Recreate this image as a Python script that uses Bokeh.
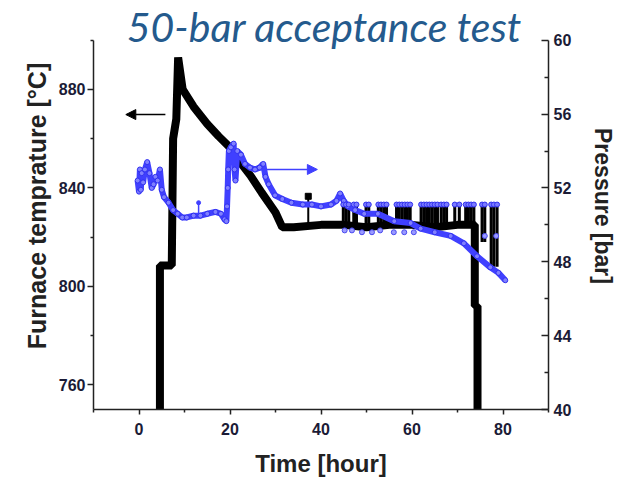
from bokeh.plotting import figure
from bokeh.models import Range1d, LinearAxis, FixedTicker, Arrow, NormalHead, Label
from bokeh.embed import file_html
from bokeh.resources import INLINE

# ---- data ----
time_temp = [4.6, 4.6, 7.2, 7.5, 8.2, 8.6, 9.6, 12.0, 15.0, 17.5, 19.7, 22.0, 24.5, 27.0,
             30.0, 31.5, 34.0, 40.0, 45.0, 50.0, 55.0, 60.0, 65.0, 70.0, 73.8, 73.8, 74.4, 74.4]
temp_c = [745, 808.5, 808.5, 860, 868, 893, 880, 873, 866, 861, 857, 851, 845, 838,
          830, 824, 824, 825, 825, 824, 825, 825, 824, 825, 825, 792, 792, 745]

time_pres = [-0.3, 0.0, 0.2, 0.4, 0.6, 0.9, 1.3, 1.8, 2.3, 2.8, 3.2, 3.6, 4.1, 4.6, 5.0, 5.5,
             6.5, 7.5, 8.5, 9.5, 10.5, 12.0, 13.5, 15.0, 16.8, 18.0, 18.8, 19.2, 19.35, 19.5,
             19.6, 19.75, 20.2, 20.8, 21.0, 21.2, 21.6, 22.4, 23.3, 24.4, 25.5, 26.5, 27.3,
             27.8, 28.5, 29.9, 31.5, 33.5, 36.0, 38.0, 40.0, 42.2, 43.4, 44.2, 45.0, 45.9,
             47.5, 49.5, 52.5, 56.1, 59.7, 61.9, 65.0, 68.5, 71.4, 74.3, 77.2, 79.0, 80.5]
pres_bar = [52.4, 51.8, 53.0, 51.9, 52.8, 52.3, 53.0, 53.4, 52.8, 52.0, 52.2, 52.6, 52.4, 53.0,
            51.9, 51.5, 51.2, 50.8, 50.6, 50.4, 50.4, 50.5, 50.5, 50.6, 50.7, 50.6, 50.3, 50.2,
            51.0, 52.0, 53.0, 54.0, 54.2, 54.4, 53.0, 52.4, 54.0, 53.8, 53.3, 53.1, 53.0, 53.1,
            53.3, 52.6, 52.2, 51.6, 51.4, 51.2, 51.1, 51.1, 51.0, 51.1, 51.3, 51.7, 51.3, 51.0,
            50.8, 50.6, 50.6, 50.2, 50.1, 49.8, 49.6, 49.4, 49.0, 48.3, 47.7, 47.4, 47.0]

# noisy readings in the later part of the run
spike_hr = [44.9, 45.5, 46.1, 47.2, 47.8, 49.9, 50.5, 52.6, 53.2, 53.8, 54.4, 56.6, 57.2,
            57.8, 58.4, 59.0, 59.6, 62.0, 62.6, 63.2, 63.8, 64.4, 65.0, 65.6, 66.4, 67.0,
            67.6, 69.4, 70.4, 71.8, 72.4, 73.0, 73.6, 75.4, 76.0, 77.4, 78.0, 78.7]
spike_lo = [824, 824, 824, 824, 824, 824, 824, 824, 824, 824, 824, 824, 824,
            824, 824, 824, 824, 824, 824, 824, 824, 824, 824, 824, 824, 824,
            824, 824, 824, 824, 824, 824, 824, 818, 818, 808, 808, 808]
spike_hi = [834, 834, 834, 834, 834, 834, 834, 834, 834, 834, 834, 834, 834,
            834, 834, 834, 834, 834, 834, 834, 834, 834, 834, 834, 834, 834,
            834, 834, 834, 834, 834, 834, 834, 834, 834, 834, 834, 834]
spike_p = [51.1, 51.1, 51.1, 51.1, 51.1, 51.1, 51.1, 51.1, 51.1, 51.1, 51.1, 51.1, 51.1,
           51.1, 51.1, 51.1, 51.1, 51.1, 51.1, 51.1, 51.1, 51.1, 51.1, 51.1, 51.1, 51.1,
           51.1, 51.1, 51.1, 51.1, 51.1, 51.1, 51.1, 51.1, 51.1, 51.1, 51.1, 51.1]
low_hr = [45.2, 46.8, 49.0, 51.2, 53.0, 56.0, 58.3, 60.4, 76.0, 78.5]
low_p = [49.7, 49.7, 49.6, 49.6, 49.7, 49.6, 49.6, 49.6, 49.4, 49.4]

t_spike_hr = [37.2]
t_spike_lo = [825]
t_spike_hi = [836.6]
p_tick_hr = [13.1]
p_tick_lo = [50.6]
p_tick_hi = [51.2]

x_major = [0, 20, 40, 60, 80]
x_minor = [-10, 10, 30, 50, 70, 90]
t_major = [760, 800, 840, 880]
t_minor = [780, 820, 860, 900]
p_major = [40, 44, 48, 52, 56, 60]
p_minor = [42, 46, 50, 54, 58]
t_bounds = (750, 900)
p_bounds = (40, 60)

BLACK = "#000000"
BLUE = "#4040ff"
TICK_COLOR = "#1b1b36"

# The frame reaches the top of the canvas so that the title can sit inside it;
# the axes are bounded to the drawn value ranges (750-900 degC, 40-60 bar).
FRAME_TOP = 2
PX_PER_C = 372 / 150.0
PX_PER_BAR = 372 / 20.0
t_top = 900 + (40 - FRAME_TOP) / PX_PER_C
p_top = 60 + (40 - FRAME_TOP) / PX_PER_BAR

p = figure(width=619, height=479, x_range=Range1d(-10, 90), y_range=Range1d(750, t_top),
           output_backend="svg", toolbar_location=None, title=None,
           min_border_left=93, min_border_right=67, min_border_top=FRAME_TOP,
           min_border_bottom=67)
p.extra_y_ranges = {"p": Range1d(40, p_top)}
p.outline_line_color = None
p.grid.visible = False
p.background_fill_color = "white"
p.border_fill_color = "white"

p.add_layout(LinearAxis(y_range_name="p"), "right")


def style(ax, label, ticks, minor, size):
    ax.ticker = FixedTicker(ticks=ticks, minor_ticks=minor)
    ax.axis_label = label
    ax.axis_label_text_font = "Liberation Sans"
    ax.axis_label_text_font_style = "bold"
    ax.axis_label_text_font_size = size
    ax.axis_label_text_color = "#222222"
    ax.major_label_text_font = "Liberation Sans"
    ax.major_label_text_font_style = "bold"
    ax.major_label_text_font_size = "16px"
    ax.major_label_text_color = TICK_COLOR
    ax.axis_line_width = 1.5
    ax.major_tick_line_width = 1.5
    ax.minor_tick_line_width = 1.5
    ax.axis_line_color = "#222222"
    ax.major_tick_line_color = "#222222"
    ax.minor_tick_line_color = "#222222"


xa = p.xaxis[0]
style(xa, "Time [hour]", x_major, x_minor, "24px")
xa.major_tick_out = 5
xa.major_tick_in = 0
xa.minor_tick_out = 3
xa.minor_tick_in = 0
xa.major_label_standoff = 8
xa.axis_label_standoff = 12

ya = p.yaxis[0]
style(ya, "Furnace temprature [°C]", t_major, t_minor, "25px")
ya.bounds = t_bounds
ya.major_tick_out = 6
ya.major_tick_in = 0
ya.minor_tick_out = 3
ya.minor_tick_in = 0
ya.major_label_standoff = 2
ya.axis_label_standoff = 5

ra = p.yaxis[1]
style(ra, "Pressure [bar]", p_major, p_minor, "23px")
ra.bounds = p_bounds
ra.major_tick_out = 0
ra.major_tick_in = 7
ra.minor_tick_out = 0
ra.minor_tick_in = 4
ra.major_label_standoff = 5
ra.axis_label_standoff = 16

# temperature
p.line(time_temp, temp_c, line_width=8, color=BLACK)
p.segment(x0=spike_hr, y0=spike_lo, x1=spike_hr, y1=spike_hi, line_width=3, color=BLACK)
p.segment(x0=t_spike_hr, y0=t_spike_lo, x1=t_spike_hr, y1=t_spike_hi, line_width=2, color=BLACK)
p.scatter(t_spike_hr, t_spike_hi, marker="square", size=6, color=BLACK)

# pressure
p.line(time_pres, pres_bar, y_range_name="p", line_width=6, color=BLUE)
p.scatter(time_pres, pres_bar, y_range_name="p", marker="circle", size=5,
          fill_color="#8080ff", line_color="#3030f0", line_width=1)
p.scatter(spike_hr, spike_p, y_range_name="p", marker="circle", size=5,
          fill_color="#7a7aff", line_color="#3030f0")
p.scatter(low_hr, low_p, y_range_name="p", marker="circle", size=5,
          fill_color="#9a9aff", line_color="#4a4af0")
p.segment(x0=p_tick_hr, y0=p_tick_lo, x1=p_tick_hr, y1=p_tick_hi, y_range_name="p",
          line_width=1.5, color=BLUE)
p.scatter(p_tick_hr, p_tick_hi, y_range_name="p", marker="circle", size=4, color=BLUE)

# arrows
p.add_layout(Arrow(end=NormalHead(size=10, fill_color=BLACK, line_color=BLACK),
                   x_start=5.8, y_start=869.8, x_end=-2.9, y_end=869.8,
                   line_width=1.5, line_color=BLACK))
p.add_layout(Arrow(end=NormalHead(size=10, fill_color=BLUE, line_color=BLUE),
                   x_start=26.5, y_start=53.0, x_end=39.2, y_end=53.0,
                   y_range_name="p", line_width=1.5, line_color=BLUE))

# title
p.add_layout(Label(x=40.8, y=905.6, text="50-bar acceptance test", text_font="Lato",
                   text_font_style="italic", text_font_size="41px", text_color="#245a8d",
                   text_align="center", text_baseline="alphabetic"))

open("out.html", "w").write(file_html(p, INLINE))
